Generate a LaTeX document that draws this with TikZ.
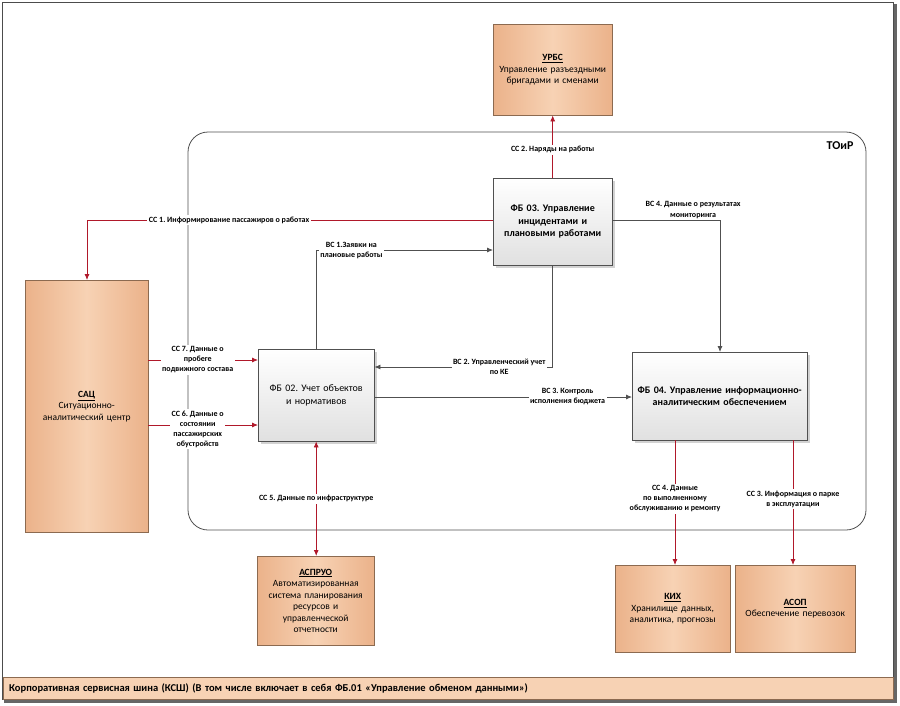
\documentclass[tikz,border=0pt]{standalone}
\usepackage{fontspec}
\setmainfont{Carlito}
\usetikzlibrary{arrows.meta,shadows}
\definecolor{rd}{HTML}{B0182A}
\definecolor{gr}{HTML}{505050}
\definecolor{org}{HTML}{F7D2B4}
\definecolor{orgd}{HTML}{EBB28A}
\definecolor{orgb}{HTML}{8C6A50}
\begin{document}
\frenchspacing
\begin{tikzpicture}[x=1pt,y=-1pt,
  fb/.style={draw=gr,top color=white,bottom color=black!12,drop shadow={opacity=0.35},align=center,font=\bfseries\fontsize{10}{12.5}\selectfont,anchor=north west,inner sep=2pt},
  ob/.style={draw=orgb,left color=orgd,right color=orgd,middle color=org,align=center,font=\fontsize{9.5}{11.5}\selectfont,anchor=north west,inner sep=2pt},
  rl/.style={draw=rd,thick,-{Latex[length=6pt,width=5pt]}},
  gl/.style={draw=gr,thick,-{Latex[length=6pt,width=5pt]}},
  lb/.style={fill=white,align=center,font=\bfseries\fontsize{8}{10}\selectfont,inner sep=1.5pt}]
\useasboundingbox (0,0) rectangle (900,705);
\fill[black!60] (4,4) rectangle (897,703);
\fill[white,draw=black!70] (2,2) rectangle (893,699);
% TOiR
\draw[gr,thick,rounded corners=20] (188,132) rectangle (866,530);
\node[font=\bfseries\fontsize{12}{14}\selectfont] (toir) at (840,146) {ТОиР};
% boxes
\node[ob,minimum width=119,minimum height=91,text width=112] (urbs) at (493,24) {\textbf{\underline{УРБС}}\\Управление разъездными бригадами и сменами};
\node[fb,minimum width=119,minimum height=87,text width=112] (fb3) at (493,178) {ФБ 03. Управление инцидентами и плановыми работами};
\node[ob,minimum width=123,minimum height=252,text width=116] (sac) at (25,280) {\textbf{\underline{САЦ}}\\Ситуационно-аналитический центр};
\node[fb,minimum width=116,minimum height=92,text width=112,font=\fontsize{10}{12.5}\selectfont] (fb2) at (258,349) {ФБ 02. Учет объектов и нормативов};
\node[fb,minimum width=175,minimum height=88,text width=168] (fb4) at (632,352) {ФБ 04. Управление информационно-аналитическим обеспечением};
\node[ob,minimum width=117,minimum height=89,text width=112] (aspruo) at (257,556) {\textbf{\underline{АСПРУО}}\\Автоматизированная система планирования ресурсов и управленческой отчетности};
\node[ob,minimum width=115,minimum height=87,text width=110] (kih) at (615,565) {\textbf{\underline{КИХ}}\\Хранилище данных, аналитика, прогнозы};
\node[ob,minimum width=120,minimum height=87,text width=115] (asop) at (735,565) {\textbf{\underline{АСОП}}\\Обеспечение перевозок};
% bus
\node[draw=orgb,fill=org,minimum width=890,minimum height=22,anchor=north west,inner sep=6pt,text width=878,font=\bfseries\fontsize{10.5}{12}\selectfont] (ksh) at (3,677) {Корпоративная сервисная шина (КСШ) (В том числе включает в себя ФБ.01 «Управление обменом данными»)};
% connectors
\draw[rl] (fb3.north) -- node[lb,pos=0.45]{СС 2. Наряды на работы} (urbs.south);
\coordinate (c1) at (87,220);
\draw[rl] (fb3.west |- c1) -- node[lb,pos=0.65]{СС 1. Информирование пассажиров о работах} (c1) -- (sac.north -| c1);
\coordinate (b1) at (316,250);
\draw[gl] (fb2.north -| b1) -- (b1) -- node[lb,pos=0.2]{ВС 1.Заявки на\\плановые работы} (fb3.west |- b1);
\coordinate (b2) at (fb3.south |- 0,367);
\draw[gl] (fb3.south) -- (b2) -- node[lb,pos=0.3]{ВС 2. Управленческий учет\\по КЕ} (fb2.east |- b2);
\coordinate (b3) at (500,397);
\draw[gl] (fb2.east |- b3) -- node[lb,pos=0.75]{ВС 3. Контроль\\исполнения бюджета} (fb4.west |- b3);
\coordinate (b4) at (720,220);
\draw[gl] (fb3.east |- b4) -- node[lb,pos=0.75,yshift=10]{ВС 4. Данные о результатах\\мониторинга} (b4) -- (fb4.north -| b4);
\coordinate (c7) at (200,360);
\draw[rl] (sac.east |- c7) -- node[lb,pos=0.45]{СС 7. Данные о\\пробеге\\подвижного состава} (fb2.west |- c7);
\coordinate (c6) at (200,425);
\draw[rl] (sac.east |- c6) -- node[lb,pos=0.45,yshift=-4]{СС 6. Данные о\\состоянии\\пассажирских\\обустройств} (fb2.west |- c6);
\draw[rl,{Latex[length=6pt,width=5pt]}-{Latex[length=6pt,width=5pt]}] (fb2.south) -- node[lb]{СС 5. Данные по инфраструктуре} (fb2.south |- aspruo.north);
\coordinate (c4) at (675,500);
\draw[rl] (fb4.south -| c4) -- node[lb,pos=0.47]{СС 4. Данные\\по выполненному\\обслуживанию и ремонту} (kih.north -| c4);
\coordinate (c3) at (793,500);
\draw[rl] (fb4.south -| c3) -- node[lb,pos=0.47]{СС 3. Информация о парке\\в эксплуатации} (asop.north -| c3);
\end{tikzpicture}
\end{document}
